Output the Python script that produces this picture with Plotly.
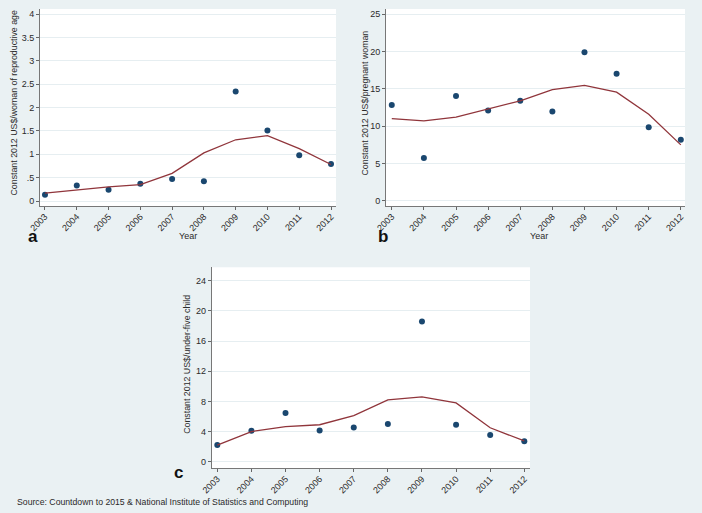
import plotly.graph_objects as go

years = [2003, 2004, 2005, 2006, 2007, 2008, 2009, 2010, 2011, 2012]

# Panel a: US$/woman of reproductive age
a_points = [0.135, 0.33, 0.24, 0.37, 0.47, 0.42, 2.34, 1.51, 0.98, 0.79]
a_smooth = [0.17, 0.24, 0.30, 0.35, 0.59, 1.03, 1.31, 1.40, 1.12, 0.78]

# Panel b: US$/pregnant woman
b_points = [12.85, 5.75, 14.05, 12.1, 13.4, 11.95, 19.9, 17.0, 9.85, 8.2]
b_smooth = [11.0, 10.7, 11.2, 12.3, 13.4, 14.9, 15.45, 14.55, 11.6, 7.5]

# Panel c: US$/under-five child
c_points = [2.2, 4.1, 6.45, 4.15, 4.55, 5.0, 18.6, 4.9, 3.55, 2.7]
c_smooth = [2.2, 4.0, 4.65, 4.9, 6.1, 8.2, 8.6, 7.8, 4.5, 2.75]

a_ticks = [0, 0.5, 1, 1.5, 2, 2.5, 3, 3.5, 4]
a_ticktext = ["0", ".5", "1", "1.5", "2", "2.5", "3", "3.5", "4"]
b_ticks = [0, 5, 10, 15, 20, 25]
c_ticks = [0, 4, 8, 12, 16, 20, 24]

titles = ["Constant 2012 US$/woman of reproductive age",
          "Constant 2012 US$/pregnant woman",
          "Constant 2012 US$/under-five child"]

W, H = 702, 513
BG = "#eaf1f3"
NAVY = "#1a476f"
MAROON = "#90353b"
FONT = "Liberation Sans, Arial, sans-serif"
TXT = "#2a2a2a"

def px_x(p):
    return p / W

def px_y(p):
    return 1 - p / H

fig = go.Figure()

panels = [
    dict(pts=a_points, sm=a_smooth, xa="x", ya="y", xk="xaxis", yk="yaxis",
         dom_x=(40, 336), dom_y=(9, 206), xr=(2002.843, 2012.157), yr=(-0.107, 4.107),
         tv=a_ticks, tt=a_ticktext, title=titles[0], tx=14),
    dict(pts=b_points, sm=b_smooth, xa="x2", ya="y2", xk="xaxis2", yk="yaxis2",
         dom_x=(386, 685), dom_y=(9, 206), xr=(2002.82, 2012.13), yr=(-0.67, 25.67),
         tv=b_ticks, tt=[str(v) for v in b_ticks], title=titles[1], tx=365),
    dict(pts=c_points, sm=c_smooth, xa="x3", ya="y3", xk="xaxis3", yk="yaxis3",
         dom_x=(211.7, 530), dom_y=(267.3, 468.3), xr=(2002.836, 2012.167), yr=(-0.875, 25.78),
         tv=c_ticks, tt=[str(v) for v in c_ticks], title=titles[2], tx=187),
]

layout = dict(
    template="none",
    width=W, height=H,
    margin=dict(l=0, r=0, t=0, b=0, pad=0, autoexpand=False),
    paper_bgcolor=BG,
    plot_bgcolor="white",
    showlegend=False,
    font=dict(family=FONT, size=9, color=TXT),
    annotations=[],
)

for p in panels:
    fig.add_trace(go.Scatter(x=years, y=p["pts"], mode="markers", xaxis=p["xa"], yaxis=p["ya"],
                             marker=dict(color=NAVY, size=6), cliponaxis=False))
    fig.add_trace(go.Scatter(x=years, y=p["sm"], mode="lines", xaxis=p["xa"], yaxis=p["ya"],
                             line=dict(color=MAROON, width=1.3)))
    x0, x1 = p["dom_x"]
    y0, y1 = p["dom_y"]
    layout[p["xk"]] = dict(
        domain=[px_x(x0), px_x(x1)], range=list(p["xr"]), anchor=p["ya"], automargin=False,
        tickvals=years, ticktext=[str(y) for y in years], tickangle=-45,
        ticks="outside", ticklen=3, tickcolor="#666", showline=True, linecolor="#777",
        linewidth=1, showgrid=False, zeroline=False, tickfont=dict(size=9, color=TXT),
        ticklabelstandoff=-2,
    )
    layout[p["yk"]] = dict(
        domain=[px_y(y1), px_y(y0)], range=list(p["yr"]), anchor=p["xa"], automargin=False,
        tickvals=p["tv"], ticktext=p["tt"],
        ticks="outside", ticklen=3, tickcolor="#666", showline=True, linecolor="#777",
        linewidth=1, showgrid=True, gridcolor="#e6eef1", gridwidth=1, zeroline=False,
        tickfont=dict(size=9, color=TXT),
    )
    layout["annotations"].append(dict(
        text=p["title"], textangle=-90, xref="paper", yref="paper",
        x=px_x(p["tx"]), y=px_y((y0 + y1) / 2 - 4), showarrow=False,
        font=dict(size=8.8, color=TXT), xanchor="center", yanchor="middle"))

# Year titles
for xc in (188, 539):
    layout["annotations"].append(dict(
        text="Year", xref="paper", yref="paper", x=px_x(xc), y=px_y(236),
        showarrow=False, font=dict(size=9, color=TXT), xanchor="center", yanchor="middle"))

# Panel letters
for letter, xc, yc in (("a", 33, 236), ("b", 383, 236), ("c", 178, 472)):
    layout["annotations"].append(dict(
        text="<b>%s</b>" % letter, xref="paper", yref="paper", x=px_x(xc), y=px_y(yc),
        showarrow=False, font=dict(size=17, color="#111"), xanchor="center", yanchor="middle"))

# Source
layout["annotations"].append(dict(
    text="Source: Countdown to 2015 & National Institute of Statistics and Computing",
    xref="paper", yref="paper", x=px_x(15), y=px_y(502), showarrow=False,
    font=dict(size=8.7, color=TXT), xanchor="left", yanchor="middle"))

fig.update_layout(**layout)
fig.write_html(
    "out.html",
    config={"displayModeBar": False},
    post_script="document.body.style.margin='0';document.body.style.padding='0';"
                "document.body.style.overflow='hidden';",
)
